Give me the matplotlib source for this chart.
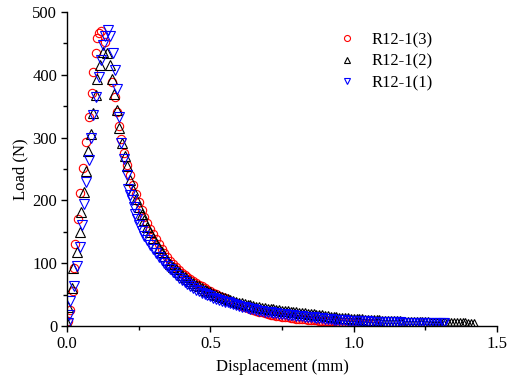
import matplotlib
matplotlib.use("Agg")
import matplotlib.pyplot as plt
from matplotlib.ticker import MultipleLocator, FormatStrFormatter

plt.rcParams['font.family'] = ['Liberation Serif', 'DejaVu Serif']

# R12-1(3) red circles
x3 = [0.004, 0.010, 0.020, 0.025, 0.028, 0.040, 0.047, 0.056, 0.066, 0.076, 0.086, 0.091,
      0.100, 0.105, 0.113, 0.119, 0.133, 0.158, 0.168, 0.176, 0.182, 0.189, 0.200,
      0.21, 0.22, 0.23, 0.24, 0.25, 0.26, 0.27, 0.28, 0.29, 0.30, 0.31, 0.32, 0.33, 0.34,
      0.35, 0.36, 0.37, 0.38, 0.39, 0.40, 0.41, 0.42, 0.43, 0.44, 0.45, 0.46, 0.47, 0.48,
      0.49, 0.50, 0.51, 0.52, 0.53, 0.54, 0.55, 0.56, 0.57, 0.58, 0.59, 0.60, 0.61, 0.62,
      0.63, 0.64, 0.65, 0.66, 0.67, 0.68, 0.69, 0.70, 0.71, 0.72, 0.73, 0.74, 0.75, 0.76,
      0.77, 0.78, 0.79, 0.80, 0.81, 0.82, 0.83, 0.84, 0.85, 0.86, 0.87, 0.88, 0.89, 0.90,
      0.91, 0.92, 0.93, 0.94, 0.95, 0.96, 0.97, 0.98, 0.99, 1.00, 1.01, 1.02, 1.03, 1.04,
      1.05, 1.06, 1.07]
y3 = [8, 25, 56, 92, 131, 171, 212, 252, 293, 333, 371, 405,
      435, 459, 466, 469, 453, 389, 365, 341, 319, 297, 275,
      256, 240, 224, 210, 197, 185, 174, 164, 155, 146, 138, 130, 123, 116,
      110, 104, 99, 94, 89, 85, 81.5, 78, 75, 72, 69, 66, 63, 60.5,
      58, 55.5, 53, 51, 48.5, 46.5, 44, 42, 40, 38, 36, 34, 32.2, 30.5,
      28.8, 27.2, 25.6, 24.2, 22.8, 21.5, 20.3, 19.2, 18.2, 17.3, 16.4, 15.6, 14.9, 14.2,
      13.6, 13, 12.4, 11.9, 11.4, 10.9, 10.5, 10.1, 9.7, 9.3, 9, 8.7, 8.4, 8.1,
      7.8, 7.5, 7.3, 7, 6.8, 6.6, 6.4, 6.2, 6, 5.8, 5.6, 5.4, 5.2, 5,
      4.8, 4.6, 4.4]

# R12-1(2) black up-triangles
x2 = [0.001, 0.005, 0.016, 0.022, 0.034, 0.045, 0.050, 0.059, 0.066, 0.074, 0.082, 0.090,
      0.100, 0.104, 0.115, 0.127, 0.141, 0.150, 0.158, 0.164, 0.174, 0.182, 0.191, 0.203,
      0.209, 0.22, 0.23, 0.24, 0.25, 0.26, 0.27, 0.28, 0.29, 0.30, 0.31, 0.32, 0.33, 0.34,
      0.35, 0.36, 0.37, 0.38, 0.39, 0.40, 0.41, 0.42, 0.43, 0.44, 0.45, 0.46, 0.47, 0.48,
      0.49, 0.50, 0.51, 0.52, 0.53, 0.54, 0.55, 0.56, 0.57, 0.58, 0.59, 0.60, 0.61, 0.62,
      0.63, 0.64, 0.65, 0.66, 0.67, 0.68, 0.69, 0.70, 0.71, 0.72, 0.73, 0.74, 0.75, 0.76,
      0.77, 0.78, 0.79, 0.80, 0.81, 0.82, 0.83, 0.84, 0.85, 0.86, 0.87, 0.88, 0.89, 0.90,
      0.91, 0.92, 0.93, 0.94, 0.95, 0.96, 0.97, 0.98, 0.99, 1.00, 1.01, 1.02, 1.03, 1.04,
      1.05, 1.06, 1.07, 1.08, 1.09, 1.10, 1.11, 1.12, 1.13, 1.14, 1.15, 1.16, 1.17, 1.18,
      1.19, 1.20, 1.21, 1.22, 1.23, 1.24, 1.25, 1.26, 1.27, 1.28, 1.29, 1.30, 1.31, 1.32,
      1.33, 1.34, 1.35, 1.36, 1.37, 1.38, 1.39, 1.40, 1.41, 1.42]
y2 = [5, 31, 60, 92, 118, 150, 182, 214, 247, 278, 306, 339,
      368, 394, 416, 437, 434, 416, 394, 370, 344, 315, 291, 270,
      254, 232, 216, 202, 190, 178, 168, 158, 149, 140, 132, 125, 118, 111,
      105, 99, 94, 90, 86, 82, 78.5, 75.5, 72, 69, 66, 63, 60.5, 58,
      56, 53.5, 51.5, 49.5, 47.5, 45.5, 44, 42.5, 41, 39.5, 38.5, 37, 36, 35,
      34, 33, 32, 31, 30, 29.2, 28.5, 27.8, 27, 26.3, 25.6, 25, 24.3, 23.7,
      23.1, 22.5, 22, 21.5, 21, 20.5, 20, 19.5, 19, 18.5, 18, 17.5, 17, 15.8,
      15.3, 14.8, 14.3, 13.8, 13.4, 13, 12.6, 12.2, 11.8, 11.4, 11.1, 10.8, 10.5, 10.2,
      9.9, 9.6, 9.3, 9, 8.8, 8.5, 8.3, 8.1, 7.9, 7.7, 7.5, 7.3, 7.1, 6.9,
      6.7, 6.6, 6.4, 6.2, 6.1, 5.9, 5.8, 5.6, 5.5, 5.3, 5.2, 5.1, 4.9, 4.8,
      4.7, 4.6, 4.5, 4.3, 4.2, 4.1, 4, 3.9, 3.8, 2.5]

# R12-1(1) blue down-triangles
x1 = [0.002, 0.006, 0.012, 0.025, 0.036, 0.045, 0.051, 0.059, 0.068, 0.075, 0.083, 0.092,
      0.102, 0.110, 0.118, 0.125, 0.132, 0.143, 0.150, 0.159, 0.168, 0.176, 0.183, 0.190,
      0.200, 0.209, 0.214, 0.220, 0.226, 0.232, 0.238, 0.244, 0.252, 0.261, 0.270, 0.279,
      0.290, 0.30, 0.31, 0.32, 0.33, 0.34, 0.35, 0.36, 0.37, 0.38, 0.39, 0.40, 0.41, 0.42,
      0.43, 0.44, 0.45, 0.46, 0.47, 0.48, 0.49, 0.50, 0.51, 0.52, 0.53, 0.54, 0.55, 0.56,
      0.57, 0.58, 0.59, 0.60, 0.61, 0.62, 0.63, 0.64, 0.65, 0.66, 0.67, 0.68, 0.69, 0.70,
      0.71, 0.72, 0.73, 0.74, 0.75, 0.76, 0.77, 0.78, 0.79, 0.80, 0.81, 0.82, 0.83, 0.84,
      0.85, 0.86, 0.87, 0.88, 0.89, 0.90, 0.91, 0.92, 0.93, 0.94, 0.95, 0.96, 0.97, 0.98,
      0.99, 1.00, 1.01, 1.02, 1.03, 1.04, 1.05, 1.06, 1.07, 1.08, 1.09, 1.10, 1.11, 1.12,
      1.13, 1.14, 1.15, 1.16, 1.17, 1.18, 1.19, 1.20, 1.21, 1.22, 1.23, 1.24, 1.25, 1.26,
      1.27, 1.28, 1.29, 1.30, 1.31, 1.315]
y1 = [5, 18, 40, 64, 95, 126, 161, 194, 230, 265, 300, 336,
      365, 396, 424, 447, 462, 471, 462, 435, 408, 377, 333, 292,
      266, 240, 218, 208, 200, 189, 179, 170, 161, 152, 144, 137,
      129, 122, 116, 110, 105, 100, 95.5, 91, 86.5, 82, 77, 73, 69.5, 66.5,
      63, 60.5, 58, 55.5, 53, 51, 49, 47, 45, 43.5, 42, 40.5, 39, 37.5,
      36, 34.5, 33, 31.5, 30.5, 29.5, 28.3, 27.3, 26.3, 25.4, 24.5, 23.7, 22.9, 22.2,
      21.5, 20.9, 20.3, 19.7, 19.1, 18.6, 18.1, 17.6, 17.1, 16.6, 16.1, 15.6, 15.1, 14.6,
      14.1, 13.6, 13.1, 12.6, 12.1, 11.6, 11.1, 10.7, 10.3, 9.9, 9.6, 9.3, 9, 8.7,
      8.5, 8.2, 8, 7.8, 7.6, 7.4, 7.2, 7, 6.8, 6.7, 6.5, 6.3, 6.2, 6,
      5.9, 5.8, 5.7, 5.6, 5.5, 5.4, 5.3, 5.2, 5.1, 5, 4.9, 4.8, 4.7, 4.6,
      4.5, 4.4, 4.3, 4.2, 4.1, 4]

labels = ['R12-1(3)', 'R12-1(2)', 'R12-1(1)']

W, H = 508, 379
fig = plt.figure(figsize=(W / 100, H / 100), dpi=100)
ax = fig.add_axes([67 / W, 53 / H, 430 / W, 314 / H])

ms = 6.0
ax.plot(x3, y3, linestyle='none', marker='o', ms=ms, mfc='none', mec='#ff0000', mew=0.8, label=labels[0])
ax.plot(x2, y2, linestyle='none', marker='^', ms=ms + 0.5, mfc='none', mec='#000000', mew=0.8, label=labels[1])
ax.plot(x1, y1, linestyle='none', marker='v', ms=ms + 0.5, mfc='none', mec='#0000ff', mew=0.8, label=labels[2])

ax.set_xlim(0, 1.5)
ax.set_ylim(0, 500)
ax.xaxis.set_major_locator(MultipleLocator(0.5))
ax.xaxis.set_minor_locator(MultipleLocator(0.25))
ax.yaxis.set_major_locator(MultipleLocator(100))
ax.yaxis.set_minor_locator(MultipleLocator(50))
ax.xaxis.set_major_formatter(FormatStrFormatter('%.1f'))
ax.spines['top'].set_visible(False)
ax.spines['right'].set_visible(False)
for s in ['left', 'bottom']:
    ax.spines[s].set_linewidth(1.0)
ax.tick_params(which='major', direction='out', length=4.5, width=1.0, labelsize=12, pad=2.5)
ax.tick_params(which='minor', direction='out', length=3, width=1.0)
ax.set_xlabel('Displacement (mm)', fontsize=12, labelpad=5)
ax.set_ylabel('Load (N)', fontsize=12, labelpad=3)

leg = ax.legend(loc='upper left', bbox_to_anchor=(337 / W, 1 - 32 / H), bbox_transform=fig.transFigure,
                frameon=False, fontsize=12, markerscale=0.72, handlelength=1.2,
                handletextpad=0.9, labelspacing=0.34, borderaxespad=0, borderpad=0)

fig.savefig('out.png', dpi=100)
